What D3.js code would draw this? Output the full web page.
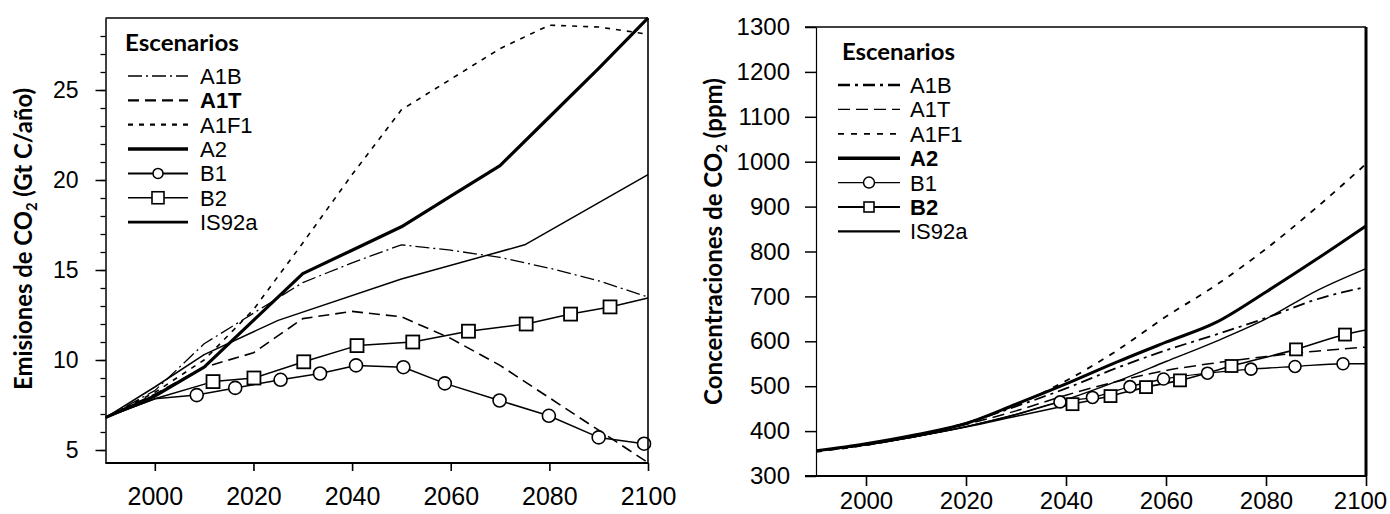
<!DOCTYPE html>
<html><head><meta charset="utf-8">
<script src="https://cdn.jsdelivr.net/npm/d3@7"></script>
<style>body{margin:0;background:#fff}</style>
</head><body>
<svg id="c" width="1390" height="514" xmlns="http://www.w3.org/2000/svg"></svg>
<script>
// ---------- DATA ----------
const years = [1990, 2000, 2010, 2020, 2030, 2040, 2050, 2060, 2070, 2080, 2090, 2100];
const xTicks = [2000, 2020, 2040, 2060, 2080, 2100];
const scenarioNames = ["A1B", "A1T", "A1F1", "A2", "B1", "B2", "IS92a"];

// Left panel: emissions (Gt C/año)
const emA1B  = [6.8, 8.3, 10.9, 12.6, 14.3, 15.4, 16.4, 16.1, 15.7, 15.1, 14.4, 13.5];
const emA1T  = [6.8, 8.1, 9.6, 10.4, 12.3, 12.7, 12.4, 11.2, 9.7, 7.9, 6.1, 4.3];
const emA1F1 = [6.8, 8.2, 10.0, 12.8, 16.5, 20.3, 23.9, 25.6, 27.3, 28.6, 28.5, 28.1];
const emA2   = [6.8, 8.0, 9.6, 12.2, 14.8, 16.1, 17.4, 19.1, 20.8, 23.5, 26.2, 29.0];
const emIS92aYears = [1990, 2000, 2010, 2025, 2050, 2075, 2100];
const emIS92a      = [6.8, 8.5, 10.3, 12.2, 14.5, 16.4, 20.3];
const emB1Years = [1990, 2000, 2008.5, 2016.3, 2025.5, 2033.5, 2040.8, 2050.4, 2058.8, 2069.9, 2079.9, 2090.0, 2099.2];
const emB1      = [6.8, 7.85, 8.05, 8.45, 8.9, 9.25, 9.7, 9.6, 8.7, 7.75, 6.9, 5.7, 5.35];
const emB2Years = [1990, 2000, 2011.8, 2020.1, 2030.2, 2041.0, 2052.3, 2063.6, 2075.3, 2084.3, 2092.3, 2100];
const emB2      = [6.8, 7.85, 8.8, 9.0, 9.9, 10.8, 11.0, 11.6, 12.0, 12.55, 12.95, 13.45];
const emYTicks = [5, 10, 15, 20, 25];
const emYMinor = [5,6,7,8,9,10,11,12,13,14,15,16,17,18,19,20,21,22,23,24,25,26,27,28];

// Right panel: concentrations (ppm)
const cA1B   = [356, 370, 390, 418, 455, 495, 540, 580, 615, 652, 693, 721];
const cA1T   = [356, 370, 390, 415, 445, 480, 510, 535, 552, 566, 578, 587];
const cA1F1  = [354, 369, 390, 418, 458, 512, 578, 655, 725, 806, 897, 995];
const cA2    = [356, 372, 392, 417, 460, 505, 553, 598, 642, 710, 782, 857];
const cIS92a = [356, 370, 388, 410, 437, 470, 510, 555, 600, 650, 712, 762];
const cB1Years = [1990, 2000, 2010, 2020, 2030, 2038.8, 2045.3, 2052.8, 2059.5, 2068.3, 2077, 2085.8, 2095.4, 2100];
const cB1      = [356, 369, 388, 410, 437, 465, 475, 499, 516, 529, 538, 544, 550, 550];
const cB2Years = [1990, 2000, 2010, 2020, 2030, 2041.3, 2048.9, 2056, 2062.8, 2073.1, 2086, 2095.8, 2100];
const cB2      = [356, 369, 388, 409, 433, 460, 478, 498, 513, 545, 582, 615, 625];
const cYTicks = [300, 400, 500, 600, 700, 800, 900, 1000, 1100, 1200, 1300];

// ---------- DRAWING ----------
const svg = d3.select("#c");
const TICKFONT = "'Liberation Sans', Arial, Helvetica, sans-serif";
const TITLEFONT = "Lato, 'Open Sans', sans-serif";

function drawPanel(p) {
  const g = svg.append("g");
  const x = d3.scaleLinear().domain([1990, 2100]).range([p.x0, p.x1]);
  const y = d3.scaleLinear().domain(p.yDomain).range([p.yBot, p.yTop]);

  const clipId = "clip" + p.id;
  svg.append("clipPath").attr("id", clipId).append("rect")
    .attr("x", p.x0).attr("y", p.yTop - 1).attr("width", p.x1 - p.x0 + 1).attr("height", p.yBot - p.yTop + 1);

  // series
  const line = d3.line().x(d => x(d[0])).y(d => y(d[1])).curve(p.curve);
  const lines = g.append("g").attr("clip-path", `url(#${clipId})`);
  p.series.forEach(s => {
    const pts = s.years.map((yr, i) => [yr, s.values[i]]);
    lines.append("path").attr("d", line(pts)).attr("fill", "none")
      .attr("stroke", "#000").attr("stroke-width", s.w)
      .attr("stroke-dasharray", s.dash || null)
      .attr("stroke-linejoin", "round");
  });
  p.series.forEach(s => {
    if (!s.marker) return;
    const pts = s.years.map((yr, i) => [yr, s.values[i]]).slice(s.markerFrom, s.markerTo);
    pts.forEach(d => {
      if (s.marker === "circle") {
        g.append("circle").attr("cx", x(d[0])).attr("cy", y(d[1])).attr("r", p.mr)
          .attr("fill", "#fff").attr("stroke", "#000").attr("stroke-width", 1.6);
      } else {
        g.append("rect").attr("x", x(d[0]) - p.ms / 2).attr("y", y(d[1]) - p.ms / 2)
          .attr("width", p.ms).attr("height", p.ms)
          .attr("fill", "#fff").attr("stroke", "#000").attr("stroke-width", 1.8);
      }
    });
  });

  // y axis
  const yAxis = d3.axisLeft(y).tickValues(p.yTicks).tickSize(p.yTickLen).tickSizeOuter(0)
    .tickPadding(p.yPad).tickFormat(d3.format("d"));
  const ya = g.append("g").attr("transform", `translate(${p.x0},0)`).call(yAxis);
  ya.select(".domain").attr("stroke-width", p.yAxisW);
  ya.selectAll(".tick line").attr("stroke-width", 1.5);
  ya.selectAll("text").attr("font-family", TICKFONT).attr("font-size", p.yFont).attr("fill", "#000");
  if (p.yMinor) {
    const ym = d3.axisLeft(y).tickValues(p.yMinor).tickSize(5).tickSizeOuter(0).tickFormat("");
    const ymg = g.append("g").attr("transform", `translate(${p.x0},0)`).call(ym);
    ymg.select(".domain").remove();
    ymg.selectAll(".tick line").attr("stroke-width", 1.3);
  }

  // x axis
  const xAxis = d3.axisBottom(x).tickValues(xTicks).tickSize(p.xTickLen).tickSizeOuter(0)
    .tickPadding(p.xPad).tickFormat(d3.format("d"));
  const xa = g.append("g").attr("transform", `translate(0,${p.yBot})`).call(xAxis);
  xa.select(".domain").remove();
  xa.selectAll(".tick line").attr("stroke-width", 1.6);
  xa.selectAll("text").attr("font-family", TICKFONT).attr("font-size", p.xFont).attr("fill", "#000");
  xa.selectAll(".tick text").filter(d => d === 2100).attr("dx", p.lastDx || 0);

  // frame lines
  g.append("line").attr("x1", p.frameLeft).attr("x2", p.x1).attr("y1", p.yBot).attr("y2", p.yBot)
    .attr("stroke", "#000").attr("stroke-width", p.bottomW);
  g.append("line").attr("x1", p.frameLeft).attr("x2", p.x1).attr("y1", p.yTop).attr("y2", p.yTop)
    .attr("stroke", "#000").attr("stroke-width", 1.4);
  g.append("line").attr("x1", p.x1).attr("x2", p.x1).attr("y1", p.yTop).attr("y2", p.yBot)
    .attr("stroke", "#000").attr("stroke-width", p.rightW);

  // y title (rotated) with CO2 subscript
  const t = g.append("text").attr("font-family", TITLEFONT).attr("font-weight", 700)
    .attr("font-size", p.titleFont).attr("text-anchor", "middle").attr("fill", "#000");
  t.append("tspan").text(p.titleA);
  t.append("tspan").text("2").attr("font-size", p.titleFont * 0.62).attr("dy", 5);
  t.append("tspan").text(p.titleB).attr("dy", -5);
  const len = t.node().getComputedTextLength();
  const sx = p.titleLen / len;
  t.attr("transform", `translate(${p.titleX},${p.titleY}) rotate(-90) scale(${sx},1)`);

  // legend
  const lg = g.append("g");
  const hd = lg.append("text").text("Escenarios").attr("x", p.legX).attr("y", p.legTitleY)
    .attr("font-family", TITLEFONT).attr("font-weight", 700).attr("font-size", p.legTitleFont).attr("fill", "#000");
  const hl = hd.node().getComputedTextLength();
  hd.attr("transform", `translate(${p.legX},0) scale(${p.legTitleLen / hl},1) translate(${-p.legX},0)`);
  p.series.forEach((s, i) => {
    const yy = p.legY0 + i * p.legDy;
    lg.append("line").attr("x1", p.legL0).attr("x2", p.legL1).attr("y1", yy).attr("y2", yy)
      .attr("stroke", "#000").attr("stroke-width", s.lw || s.w).attr("stroke-dasharray", s.ldash || s.dash || null);
    const mx = (p.legL0 + p.legL1) / 2;
    if (s.marker === "circle") {
      lg.append("circle").attr("cx", mx).attr("cy", yy).attr("r", p.lmr)
        .attr("fill", "#fff").attr("stroke", "#000").attr("stroke-width", 1.5);
    } else if (s.marker === "square") {
      lg.append("rect").attr("x", mx - p.lms / 2).attr("y", yy - p.lms / 2).attr("width", p.lms).attr("height", p.lms)
        .attr("fill", "#fff").attr("stroke", "#000").attr("stroke-width", 1.6);
    }
    lg.append("text").text(s.name).attr("x", p.legTextX).attr("y", yy).attr("dy", "0.36em")
      .attr("font-family", TICKFONT).attr("font-size", p.legFont)
      .attr("font-weight", s.bold ? 700 : 400).attr("fill", "#000");
  });
}

// Left panel
drawPanel({
  id: "L", x0: 105.5, x1: 648, yTop: 18, yBot: 463, frameLeft: 105.5,
  yDomain: [5 - 13 / 18, 29], yTicks: emYTicks, yMinor: emYMinor,
  yTickLen: 10, yPad: 17, yFont: 23, yAxisW: 1.5,
  xTickLen: 8, xPad: 16, xFont: 25, bottomW: 1.8, rightW: 1.6,
  curve: d3.curveLinear, mr: 6.5, ms: 13,
  titleA: "Emisiones de CO", titleB: " (Gt C/año)", titleFont: 25, titleLen: 302, titleX: 32, titleY: 239,
  legX: 125, legTitleY: 51, legTitleFont: 23, legTitleLen: 114,
  legY0: 76, legDy: 24.35, legL0: 128, legL1: 188, legTextX: 200, legFont: 22, lmr: 5, lms: 12,
  series: [
    { name: scenarioNames[0], years: years, values: emA1B, w: 1.3, dash: "14,4,2,4" },
    { name: scenarioNames[1], years: years, values: emA1T, w: 1.6, dash: "11,6", lw: 2.4, bold: true },
    { name: scenarioNames[2], years: years, values: emA1F1, w: 1.6, dash: "5,6", lw: 2.2 },
    { name: scenarioNames[3], years: years, values: emA2, w: 3.2, lw: 3.6 },
    { name: scenarioNames[4], years: emB1Years, values: emB1, w: 1.5, lw: 2, marker: "circle", markerFrom: 2 },
    { name: scenarioNames[5], years: emB2Years, values: emB2, w: 1.5, lw: 1.6, marker: "square", markerFrom: 2, markerTo: 11 },
    { name: scenarioNames[6], years: emIS92aYears, values: emIS92a, w: 1.5, lw: 2.6 }
  ]
});

// Right panel
drawPanel({
  id: "R", x0: 816, x1: 1366, yTop: 27, yBot: 476, frameLeft: 805,
  yDomain: [300, 1300], yTicks: cYTicks, yMinor: null,
  yTickLen: 11, yPad: 15, yFont: 24, yAxisW: 1.2,
  xTickLen: 10, xPad: 6, xFont: 24, lastDx: -6, bottomW: 2, rightW: 3,
  curve: d3.curveMonotoneX, mr: 6, ms: 12,
  titleA: "Concentraciones de CO", titleB: " (ppm)", titleFont: 25, titleLen: 327, titleX: 722, titleY: 241.5,
  legX: 842, legTitleY: 60, legTitleFont: 23, legTitleLen: 113,
  legY0: 85, legDy: 24.4, legL0: 838, legL1: 900, legTextX: 910, legFont: 22, lmr: 5.5, lms: 10,
  series: [
    { name: scenarioNames[0], years: years, values: cA1B, w: 1.8, dash: "12,5,3,5", lw: 2.4 },
    { name: scenarioNames[1], years: years, values: cA1T, w: 1.5, dash: "12,6", lw: 1.2 },
    { name: scenarioNames[2], years: years, values: cA1F1, w: 1.8, dash: "6,7", lw: 1.8 },
    { name: scenarioNames[3], years: years, values: cA2, w: 3, lw: 3.6, bold: true },
    { name: scenarioNames[4], years: cB1Years, values: cB1, w: 1.4, lw: 1.4, marker: "circle", markerFrom: 5, markerTo: 13 },
    { name: scenarioNames[5], years: cB2Years, values: cB2, w: 1.6, lw: 2.2, marker: "square", markerFrom: 5, markerTo: 12, bold: true },
    { name: scenarioNames[6], years: years, values: cIS92a, w: 1.4, lw: 2.2 }
  ]
});
</script>
</body></html>
